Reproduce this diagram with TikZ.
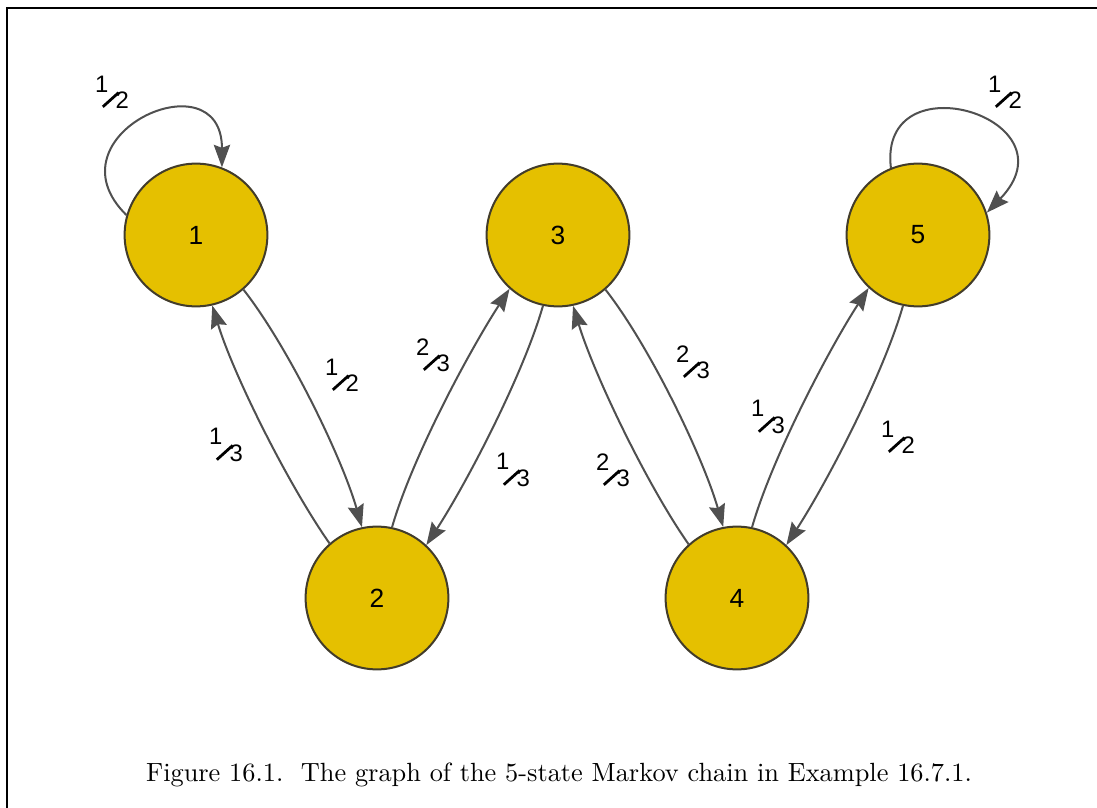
\documentclass[tikz,border=0pt]{standalone}
\usepackage{fontspec}
\usepackage{graphicx}
\usepackage{tikz}
\usetikzlibrary{arrows.meta}
\newfontfamily\lblfont{Liberation Sans}
\definecolor{stategold}{RGB}{229,192,0}
\definecolor{stateline}{RGB}{66,60,42}
\definecolor{edgegray}{RGB}{80,80,80}
% slanted fraction for transition probabilities
\newcommand{\prob}[2]{\raisebox{6.5pt}{#1}\kern-2.6pt\raisebox{.2pt}{\rotatebox{42}{\rule{8.5pt}{1.1pt}}}\kern-1.6pt#2}

\begin{document}
\begin{tikzpicture}[x=0.014cm,y=0.014cm,>={Stealth[length=9pt,width=6.5pt,inset=1.2pt]},
  state/.style={circle,draw=stateline,line width=0.8pt,fill=stategold,minimum size=2.0cm,inner sep=0pt,font=\lblfont\fontsize{10.5}{12}\selectfont},
  trans/.style={->,draw=edgegray,line width=0.8pt,looseness=0.7},
  plabel/.style={font=\lblfont\fontsize{9.5}{10}\selectfont,inner sep=0pt}]
  \useasboundingbox (0,0) rectangle (1097,-808);
  % page frame (cropped)
  \draw[line width=0.5pt] (7,-808) -- (7,-8) -- (1097,-8);
  % states
  \foreach \n/\px/\py in {1/196/235, 2/377/598, 3/558/235, 4/737/598, 5/918/235} {
    \node[state] (s\n) at (\px,-\py) {\n};
  }
  % transitions between states
  \draw[trans] (s1.-49) to[out=-52,in=106] (s2.102);
  \draw[trans] (s2.131) to[out=125,in=-73] (s1.-77);
  \draw[trans] (s2.78) to[out=74,in=-123] (s3.-132);
  \draw[trans] (s3.-102) to[out=-106,in=57] (s2.47);
  \draw[trans] (s3.-49) to[out=-52,in=106] (s4.101);
  \draw[trans] (s4.132) to[out=125,in=-73] (s3.-78);
  \draw[trans] (s4.78) to[out=74,in=-123] (s5.-133);
  \draw[trans] (s5.-102) to[out=-106,in=57] (s4.47);
  % self loops
  \draw[trans] (s1.164) .. controls (45,-135) and (222,-55) .. (s1.69);
  \draw[trans] (s5.112) .. controls (878,-58) and (1078,-118) .. (s5.18);
  % probabilities
  \node[plabel] (p11) at (112,-92) {\prob{1}{2}};
  \node[plabel] (p12) at (342,-375) {\prob{1}{2}};
  \node[plabel] (p21) at (226,-445) {\prob{1}{3}};
  \node[plabel] (p23) at (433,-355) {\prob{2}{3}};
  \node[plabel] (p32) at (513,-470) {\prob{1}{3}};
  \node[plabel] (p34) at (693,-362) {\prob{2}{3}};
  \node[plabel] (p43) at (613,-470) {\prob{2}{3}};
  \node[plabel] (p45) at (768,-417) {\prob{1}{3}};
  \node[plabel] (p54) at (898,-437) {\prob{1}{2}};
  \node[plabel] (p55) at (1005,-92) {\prob{1}{2}};
  % caption
  \node[font=\fontsize{10.5}{12}\selectfont] (cap) at (559,-775) {Figure 16.1.\ \ The graph of the 5-state Markov chain in Example 16.7.1.};
\end{tikzpicture}
\end{document}
